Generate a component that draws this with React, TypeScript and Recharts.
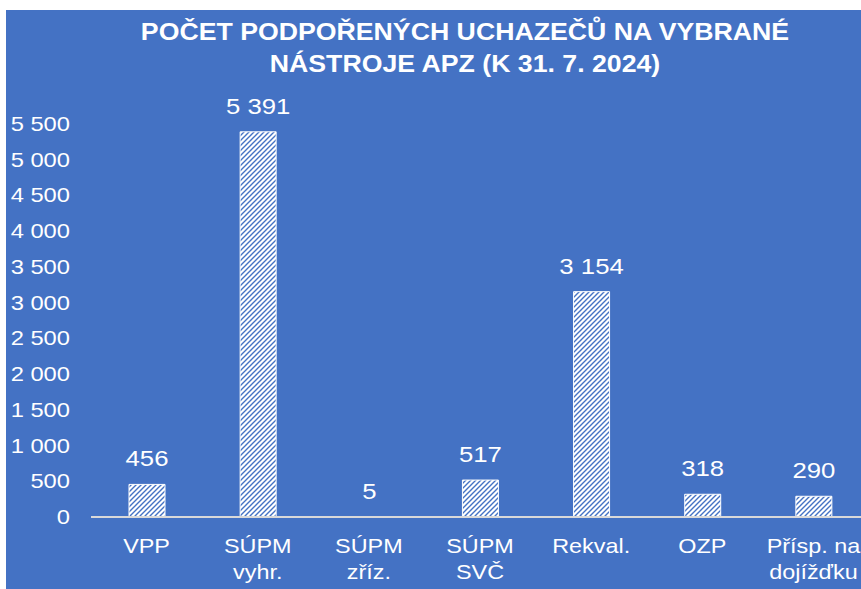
import { BarChart, Bar, XAxis, YAxis, LabelList } from "recharts";

const categories = [
  "VPP",
  "SÚPM\nvyhr.",
  "SÚPM\nzříz.",
  "SÚPM\nSVČ",
  "Rekval.",
  "OZP",
  "Přísp. na\ndojížďku",
];
const values = [456, 5391, 5, 517, 3154, 318, 290];
const yTicks = [0, 500, 1000, 1500, 2000, 2500, 3000, 3500, 4000, 4500, 5000, 5500];
const titleLines = [
  "POČET PODPOŘENÝCH UCHAZEČŮ NA VYBRANÉ",
  "NÁSTROJE APZ (K 31. 7. 2024)",
];

const data = categories.map((c, i) => ({ name: c, value: values[i] }));

const BG = "#4472C4";
const FONT = "'Liberation Sans', Arial, sans-serif";
const SX = 1.17; // text in the original is a bit wider

const fmt = (v: number) => String(v).replace(/\B(?=(\d{3})+(?!\d))/g, " ");

const XTick = (props: any) => {
  const { x, y, payload } = props;
  const lines = String(payload.value).split("\n");
  return (
    <g transform={`translate(${x},${y}) scale(${SX},1)`}>
      {lines.map((l, i) => (
        <text
          key={i}
          x={0}
          y={0}
          dy={28 + i * 26}
          textAnchor="middle"
          fill="#fff"
          fontSize={20}
          fontFamily={FONT}
        >
          {l}
        </text>
      ))}
    </g>
  );
};

const YTick = (props: any) => {
  const { x, y, payload } = props;
  return (
    <g transform={`translate(${x},${y}) scale(1.13,1)`}>
      <text x={0} y={0} dy={7} textAnchor="end" fill="#fff" fontSize={21} fontFamily={FONT}>
        {fmt(payload.value)}
      </text>
    </g>
  );
};

const BarLabel = (props: any) => {
  const { x, y, width, value } = props;
  return (
    <g transform={`translate(${x + width / 2},${y - 18}) scale(${SX},1)`}>
      <text x={0} y={0} textAnchor="middle" fill="#fff" fontSize={22} fontFamily={FONT}>
        {fmt(Number(value))}
      </text>
    </g>
  );
};

export default function App() {
  return (
    <div
      style={{
        position: "absolute",
        left: 6,
        top: 10,
        width: 855,
        height: 579,
        background: BG,
        fontFamily: FONT,
        overflow: "hidden",
      }}
    >
      <svg width={0} height={0} style={{ position: "absolute" }}>
        <defs>
          <pattern id="hatch" patternUnits="userSpaceOnUse" width={5} height={5}>
            <rect width={5} height={5} fill="#fff" />
            <path d="M-1,6 L6,-1 M-3.5,3.5 L3.5,-3.5 M1.5,8.5 L8.5,1.5" stroke={BG} strokeWidth={1.4} />
          </pattern>
        </defs>
      </svg>
      <div
        style={{
          position: "absolute",
          top: 6,
          left: 459,
          transform: `translateX(-50%) scaleX(${SX - 0.01})`,
          whiteSpace: "nowrap",
          textAlign: "center",
          color: "#fff",
          fontWeight: "bold",
          fontSize: 23,
          lineHeight: "32px",
        }}
      >
        {titleLines.map((t) => (
          <div key={t}>{t}</div>
        ))}
      </div>
      <BarChart
        width={863}
        height={579}
        data={data}
        margin={{ top: 114, right: 0, bottom: 0, left: 0 }}
        barSize={36}
      >
        <XAxis
          dataKey="name"
          axisLine={{ stroke: "#D9D9D9", strokeWidth: 2 }}
          tickLine={false}
          tick={<XTick />}
          interval={0}
          height={72}
        />
        <YAxis
          domain={[0, 5500]}
          ticks={yTicks}
          interval={0}
          width={85}
          axisLine={false}
          tickLine={false}
          tickSize={0}
          tickMargin={21}
          tick={<YTick />}
        />
        <Bar
          dataKey="value"
          fill="url(#hatch)"
          stroke="#fff"
          strokeWidth={1}
          isAnimationActive={false}
        >
          <LabelList dataKey="value" content={<BarLabel />} />
        </Bar>
      </BarChart>
    </div>
  );
}
